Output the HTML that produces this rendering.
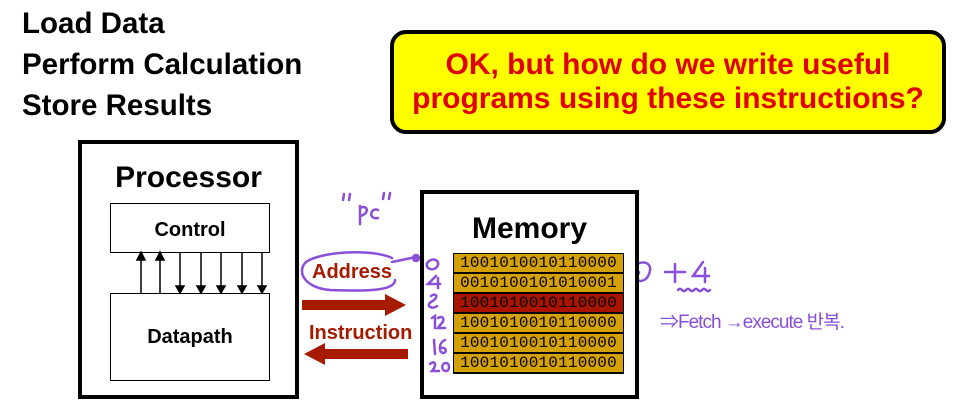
<!DOCTYPE html><html><head><style>
body{margin:0;width:970px;height:414px;background:#fff;position:relative;font-family:"Liberation Sans",sans-serif;overflow:hidden}
.a{position:absolute}
.t{font-weight:bold;font-size:29.5px;color:#000}
.row{position:absolute;left:453px;width:169px;height:18px;border:1px solid #000;background:#d4a100;font-family:"Liberation Mono",monospace;font-size:16px;text-align:center;line-height:19px;letter-spacing:0.2px;box-shadow:0 1px 0 #000}
</style></head><body>
<div class="a t" style="left:22px;top:7px">Load Data</div>
<div class="a t" style="left:22px;top:48px">Perform Calculation</div>
<div class="a t" style="left:22px;top:89px">Store Results</div>
<div class="a" style="left:390px;top:30px;width:548px;background:#ffff00;border:4px solid #000;border-radius:16px;color:#e00000;font-weight:bold;font-size:30px;text-align:center;line-height:34px;padding-top:14px;height:82px">OK, but how do we write useful<br>programs using these instructions?</div>
<div class="a" style="left:78px;top:140px;width:213px;height:251px;border:4px solid #000"></div>
<div class="a" style="left:78px;top:161px;width:221px;text-align:center;font-weight:bold;font-size:30px">Processor</div>
<div class="a" style="left:110px;top:203px;width:158px;height:48px;border:1px solid #000;text-align:center;line-height:52px;font-weight:bold;font-size:20px">Control</div>
<div class="a" style="left:110px;top:293px;width:158px;height:86px;border:1px solid #000;text-align:center;line-height:86px;font-weight:bold;font-size:20px">Datapath</div>
<svg class="a" style="left:0;top:0" width="970" height="414">
<g stroke="#000" stroke-width="1.5" fill="#000">
<line x1="141" y1="258" x2="141" y2="293"/><polygon points="137,260 145,260 141,252"/>
<line x1="160" y1="258" x2="160" y2="293"/><polygon points="156,260 164,260 160,252"/>
<line x1="180" y1="253" x2="180" y2="288"/><polygon points="176,286 184,286 180,293"/>
<line x1="201" y1="253" x2="201" y2="288"/><polygon points="197,286 205,286 201,293"/>
<line x1="221" y1="253" x2="221" y2="288"/><polygon points="217,286 225,286 221,293"/>
<line x1="242" y1="253" x2="242" y2="288"/><polygon points="238,286 246,286 242,293"/>
<line x1="262" y1="253" x2="262" y2="288"/><polygon points="258,286 266,286 262,293"/>
</g>
<g fill="#a61a00">
<polygon points="302,300 385,300 385,294 406,305 385,316 385,310 302,310"/>
<polygon points="408,349 325,349 325,343 304,354 325,365 325,359 408,359"/>
</g>
<g fill="none" stroke="#8a4fd6" stroke-width="2.5" stroke-linecap="round">
<path d="M392,258 C370,248 320,252 306,262 C296,272 305,288 330,290 C360,291 395,292 395,280"/>
<path d="M392,262 L416,257"/><circle cx="416" cy="258" r="3" fill="#8a4fd6"/>
<path d="M428,262 c6,-6 14,0 8,6 c-6,4 -12,-2 -8,-6"/>
<path d="M436,276 l-8,8 h12 M438,278 v10"/>
<path d="M431,296 c6,-4 8,2 0,6 c-6,4 2,8 6,4"/>
<path d="M432,318 l3,-2 v12 M438,318 c4,-3 8,1 3,6 l-3,4 h7"/>
<path d="M434,340 l1,14 M445,340 c-6,2 -7,12 -2,13 c4,0 4,-6 -2,-5"/>
<path d="M430,364 c4,-4 8,0 2,7 h7 M446,363 c-5,0 -5,8 0,8 c4,0 4,-8 0,-8"/>
<path d="M637,264 c8,-4 16,0 12,10 c-2,6 -10,10 -12,4 l2,-6"/>
<path d="M665,272 h20 M675,264 v18 M703,262 l-10,14 h16 M705,268 v14"/>
<path d="M678,290 c3,-4 5,4 8,0 c3,-4 5,4 8,0 c3,-4 5,4 8,0 c3,-4 5,4 8,0"/>
<path d="M343,200 l1,-6 M349,200 l1,-6 M383,199 l1,-6 M389,199 l1,-6"/>
<path d="M360,206 v18 M360,208 c8,-4 10,6 0,8 M378,210 c-8,-3 -10,10 0,8"/>
</g>
</svg>
<div class="a" style="left:660px;top:307px;color:#8a4fd6;font-size:19px;font-family:'Liberation Sans','Noto Sans CJK KR',sans-serif;letter-spacing:-1px">⇒Fetch →execute 반복.</div>
<div class="a" style="left:312px;top:261px;color:#a61a00;font-weight:bold;font-size:20px">Address</div>
<div class="a" style="left:309px;top:322px;color:#a61a00;font-weight:bold;font-size:20px">Instruction</div>
<div class="a" style="left:420px;top:190px;width:211px;height:201px;border:4px solid #000"></div>
<div class="a" style="left:420px;top:212px;width:219px;text-align:center;font-weight:bold;font-size:30px">Memory</div>
<div class="row" style="top:253px">1001010010110000</div>
<div class="row" style="top:273px">0010100101010001</div>
<div class="row" style="top:293px;background:#a81400">1001010010110000</div>
<div class="row" style="top:313px">1001010010110000</div>
<div class="row" style="top:333px">1001010010110000</div>
<div class="row" style="top:353px">1001010010110000</div>
</body></html>
